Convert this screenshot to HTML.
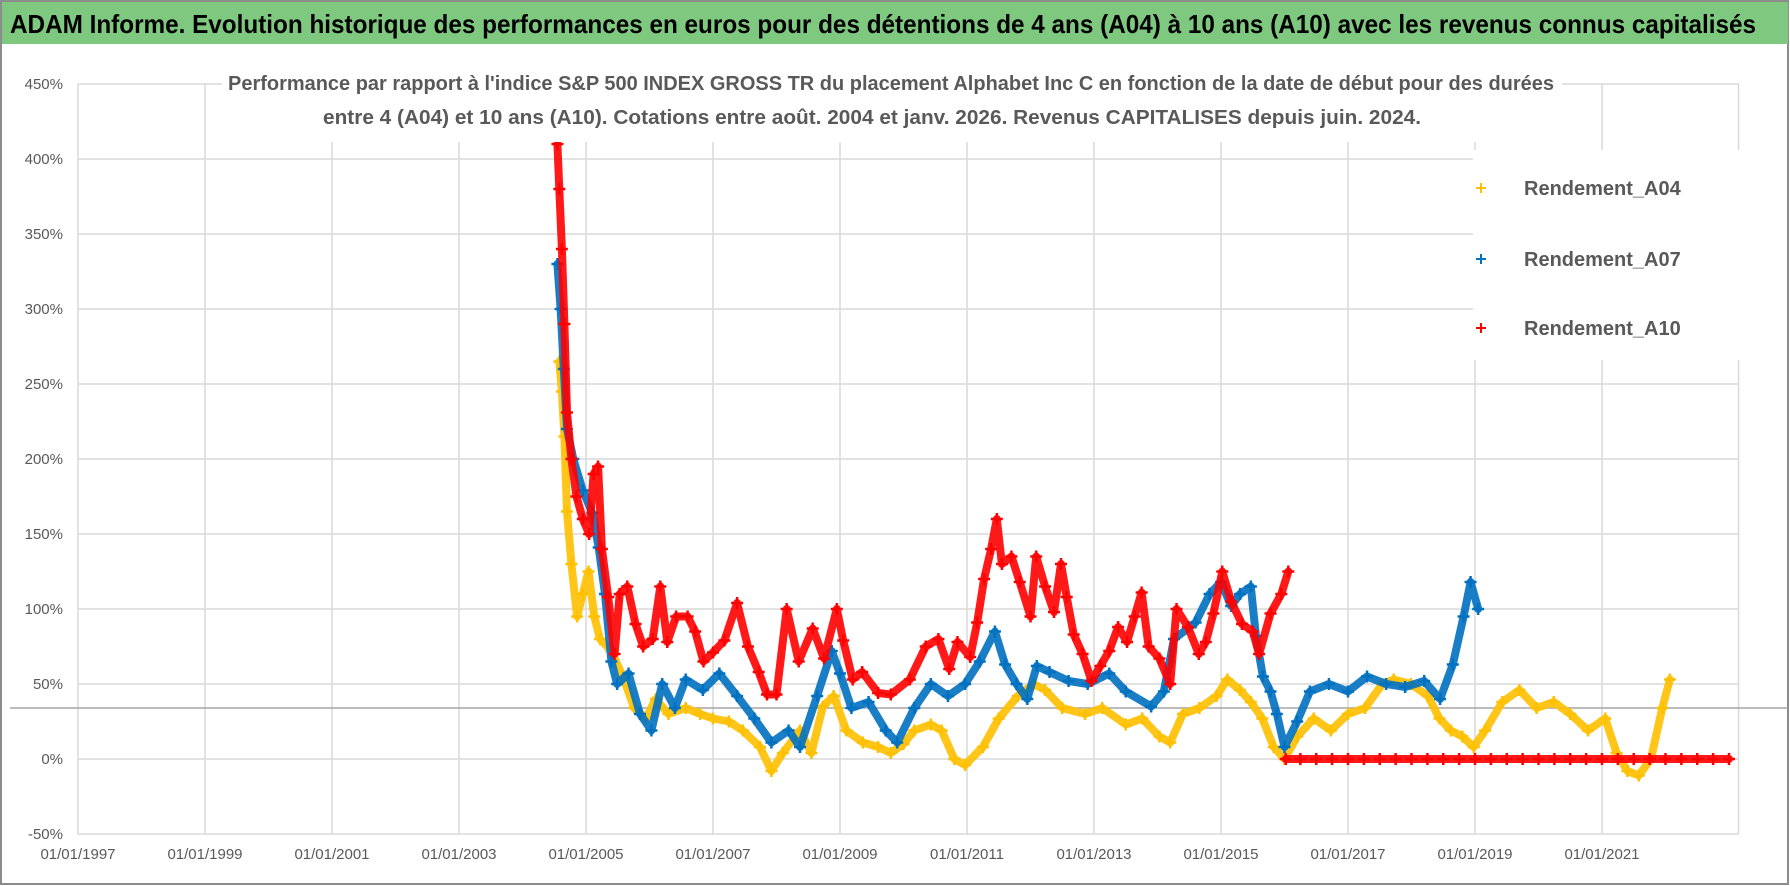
<!DOCTYPE html>
<html><head><meta charset="utf-8"><style>
html,body{margin:0;padding:0;background:#fff;}
svg{display:block;font-family:"Liberation Sans Narrow","Liberation Sans",sans-serif;}
</style></head><body>
<svg id="chart" width="1790" height="886" viewBox="0 0 1790 886" xmlns="http://www.w3.org/2000/svg">
<rect x="0" y="0" width="1790" height="886" fill="#fff"/>
<rect x="1" y="1" width="1787" height="883" fill="none" stroke="#8c8c8c" stroke-width="2"/>
<rect x="2" y="2" width="1786" height="42" fill="#7ec87f"/>
<text x="10" y="33" font-size="26" font-weight="bold" fill="#000" textLength="1746" lengthAdjust="spacingAndGlyphs">ADAM Informe. Evolution historique des performances en euros pour des détentions de 4 ans (A04) à 10 ans (A10) avec les revenus connus capitalisés</text>
<g id="grid"></g>
<line x1="10" y1="708" x2="1788" y2="708" stroke="#a6a6a6" stroke-width="1.5"/>
<g id="yaxis"></g>
<g id="xaxis"></g>
<g id="series"></g>
<rect x="222" y="66" width="1340" height="76" fill="#fff"/>
<text x="228" y="90" font-size="20" font-weight="bold" fill="#595959" textLength="1326" lengthAdjust="spacingAndGlyphs">Performance par rapport à l'indice S&amp;P 500 INDEX GROSS TR  du placement Alphabet Inc C en fonction de la date de début pour des durées</text>
<text x="323" y="124" font-size="20" font-weight="bold" fill="#595959" textLength="1098" lengthAdjust="spacingAndGlyphs">entre 4 (A04) et 10 ans (A10). Cotations entre août. 2004 et janv. 2026. Revenus CAPITALISES depuis juin. 2024.</text>
<g>
<rect x="1473" y="150" width="292" height="210" fill="#fff"/>
<g><path d="M1476 188h10M1481 183v10" stroke="#ffc000" stroke-width="2"/><text x="1524" y="195" font-size="20" font-weight="bold" fill="#595959">Rendement_A04</text></g>
<g><path d="M1476 259h10M1481 254v10" stroke="#0070c0" stroke-width="2"/><text x="1524" y="266" font-size="20" font-weight="bold" fill="#595959">Rendement_A07</text></g>
<g><path d="M1476 328h10M1481 323v10" stroke="#ff0000" stroke-width="2"/><text x="1524" y="335" font-size="20" font-weight="bold" fill="#595959">Rendement_A10</text></g>
</g>
</svg>
<script>
const yTicks = [-50,0,50,100,150,200,250,300,350,400,450];
const xTickYears = [1997,1999,2001,2003,2005,2007,2009,2011,2013,2015,2017,2019,2021];
const xTickLabels = ["01/01/1997","01/01/1999","01/01/2001","01/01/2003","01/01/2005","01/01/2007","01/01/2009","01/01/2011","01/01/2013","01/01/2015","01/01/2017","01/01/2019","01/01/2021"];

const a04Years = [2004.58,2004.62,2004.66,2004.7,2004.77,2004.86,2004.95,2005.04,2005.13,2005.22,2005.4,2005.58,2005.76,2005.94,2006.1,2006.3,2006.57,2006.8,2007.0,2007.25,2007.47,2007.74,2007.92,2008.1,2008.37,2008.55,2008.73,2008.9,2009.1,2009.36,2009.6,2009.8,2010.0,2010.17,2010.43,2010.6,2010.8,2010.97,2011.25,2011.5,2011.8,2012.05,2012.23,2012.5,2012.86,2013.13,2013.5,2013.76,2014.03,2014.2,2014.4,2014.66,2014.93,2015.1,2015.3,2015.47,2015.65,2015.83,2016.0,2016.2,2016.46,2016.73,2017.0,2017.27,2017.54,2017.72,2017.99,2018.26,2018.44,2018.62,2018.8,2018.98,2019.16,2019.43,2019.7,2019.97,2020.24,2020.5,2020.78,2021.05,2021.23,2021.4,2021.58,2021.77,2021.95,2022.07];
const a04Values = [265,245,215,165,130,95,110,125,95,80,72,55,34,27,40,30,34,30,27,25,19,8,-8,4,19,4,35,42,19,11,8,4,10,19,23,19,0,-4,8,27,42,50,46,34,30,34,23,27,15,11,30,34,42,53,46,38,27,8,0,15,27,19,30,34,50,53,50,42,27,19,15,8,19,38,46,34,38,30,19,27,4,-8,-11,0,34,53];

const a07Years = [2004.55,2004.6,2004.65,2004.7,2004.8,2004.95,2005.1,2005.2,2005.3,2005.4,2005.49,2005.67,2005.85,2006.03,2006.2,2006.4,2006.57,2006.84,2007.1,2007.38,2007.65,2007.92,2008.19,2008.37,2008.64,2008.87,2009.0,2009.18,2009.45,2009.72,2009.9,2010.17,2010.43,2010.7,2010.97,2011.2,2011.44,2011.6,2011.78,2011.95,2012.1,2012.3,2012.6,2012.9,2013.24,2013.5,2013.9,2014.1,2014.26,2014.6,2014.82,2015.0,2015.16,2015.3,2015.47,2015.55,2015.66,2015.78,2015.88,2016.0,2016.2,2016.4,2016.7,2017.0,2017.3,2017.6,2017.9,2018.2,2018.45,2018.65,2018.82,2018.93,2019.05];
const a07Values = [330,300,260,220,200,179,164,141,110,65,50,57,30,19,50,34,53,46,57,42,27,11,19,8,42,72,57,34,38,19,11,34,50,42,50,65,85,63,50,40,62,58,52,50,57,45,35,45,80,91,110,118,102,110,115,82,55,45,30,8,25,45,50,45,55,50,48,52,40,63,95,118,100];

const a10Years = [2004.55,2004.58,2004.62,2004.66,2004.7,2004.77,2004.85,2004.95,2005.05,2005.12,2005.19,2005.25,2005.35,2005.45,2005.53,2005.65,2005.78,2005.9,2006.05,2006.17,2006.28,2006.42,2006.6,2006.72,2006.85,2007.0,2007.18,2007.38,2007.55,2007.72,2007.85,2008.0,2008.16,2008.35,2008.57,2008.75,2008.95,2009.05,2009.2,2009.35,2009.6,2009.8,2010.1,2010.35,2010.55,2010.72,2010.85,2011.05,2011.16,2011.27,2011.38,2011.47,2011.55,2011.7,2011.83,2012.0,2012.09,2012.23,2012.37,2012.48,2012.57,2012.68,2012.82,2012.96,2013.1,2013.24,2013.38,2013.52,2013.64,2013.75,2013.86,2014.03,2014.2,2014.3,2014.48,2014.65,2014.76,2014.88,2015.02,2015.16,2015.33,2015.5,2015.6,2015.78,2015.95,2016.06,2016.02,2016.25,2016.5,2016.75,2017.0,2017.25,2017.5,2017.75,2018.0,2018.25,2018.5,2018.75,2019.0,2019.25,2019.5,2019.75,2020.0,2020.25,2020.5,2020.75,2021.0,2021.25,2021.5,2021.75,2022.0,2022.25,2022.5,2022.75,2023.0];
const a10Values = [410,380,340,290,231,200,175,160,150,190,195,140,108,70,110,115,90,75,80,115,78,95,95,85,65,71,79,104,75,58,43,43,100,65,87,67,100,79,53,58,44,43,53,75,80,60,78,68,91,120,140,160,130,135,118,95,135,115,98,130,108,83,70,52,62,72,88,78,95,111,75,67,50,100,88,70,78,97,125,105,90,85,70,97,110,125,0,0,0,0,0,0,0,0,0,0,0,0,0,0,0,0,0,0,0,0,0,0,0,0,0,0,0,0,0];

const NS = "http://www.w3.org/2000/svg";
const X0 = 78, PX_PER_YEAR = 63.5, Y0 = 759, PX_PER_PCT = 1.5;
function xScale(yr){ return X0 + (yr - 1997) * PX_PER_YEAR; }
function yScale(p){ return Y0 - p * PX_PER_PCT; }
function mk(tag, attrs){ const e = document.createElementNS(NS, tag); for (const k in attrs) e.setAttribute(k, attrs[k]); return e; }

const grid = document.getElementById('grid');
const yaxis = document.getElementById('yaxis');
const xaxis = document.getElementById('xaxis');
const xRight = xScale(2023.15);
yTicks.forEach(t => {
  const l = mk('line', {x1: X0, x2: xRight, y1: yScale(t), y2: yScale(t), stroke: '#d9d9d9', 'stroke-width': 1.5});
  
  
  grid.appendChild(l);
  const tx = mk('text', {x: 63, y: yScale(t) + 5, 'text-anchor': 'end', 'font-size': 15, fill: '#595959'});
  
  
  tx.textContent = t + '%';
  yaxis.appendChild(tx);
});
xTickYears.forEach((yr, i) => {
  const l = mk('line', {x1: xScale(yr), x2: xScale(yr), y1: yScale(450), y2: yScale(-50), stroke: '#d9d9d9', 'stroke-width': 1.5});
  
  
  grid.appendChild(l);
  const tx = mk('text', {x: xScale(yr), y: 859, 'text-anchor': 'middle', 'font-size': 15, fill: '#595959'});
  
  
  tx.textContent = xTickLabels[i];
  xaxis.appendChild(tx);
});
const rb = mk('line', {x1: xRight, x2: xRight, y1: yScale(450), y2: yScale(-50), stroke: '#d9d9d9', 'stroke-width': 1.5});


grid.appendChild(rb);

const seriesLayer = document.getElementById('series');
function drawSeries(name, years, vals, color){
  const g = mk('g', {});
  
  
  // split into segments where the series jumps to the zero plateau
  const segs = [[]];
  years.forEach((y, i) => {
    if (i > 0 && vals[i] === 0 && vals[i-1] > 60) segs.push([]);
    segs[segs.length-1].push(xScale(y).toFixed(1) + ',' + yScale(vals[i]).toFixed(1));
  });
  segs.forEach(s => {
    const pl = mk('polyline', {points: s.join(' '), fill: 'none', stroke: color, 'stroke-width': 8, 'stroke-linejoin': 'round', 'stroke-linecap': 'round', opacity: 0.9});
    
    
    g.appendChild(pl);
  });
  years.forEach((y, i) => {
    const cx = xScale(y), cy = yScale(vals[i]);
    const p = mk('path', {d: `M${cx-6} ${cy}h12M${cx} ${cy-6}v12`, stroke: color, 'stroke-width': 2.5});
    
    
    g.appendChild(p);
  });
  seriesLayer.appendChild(g);
}
drawSeries('series-a04', a04Years, a04Values, '#ffc000');
drawSeries('series-a07', a07Years, a07Values, '#0070c0');
drawSeries('series-a10', a10Years, a10Values, '#ff0000');
</script>
</body></html>
